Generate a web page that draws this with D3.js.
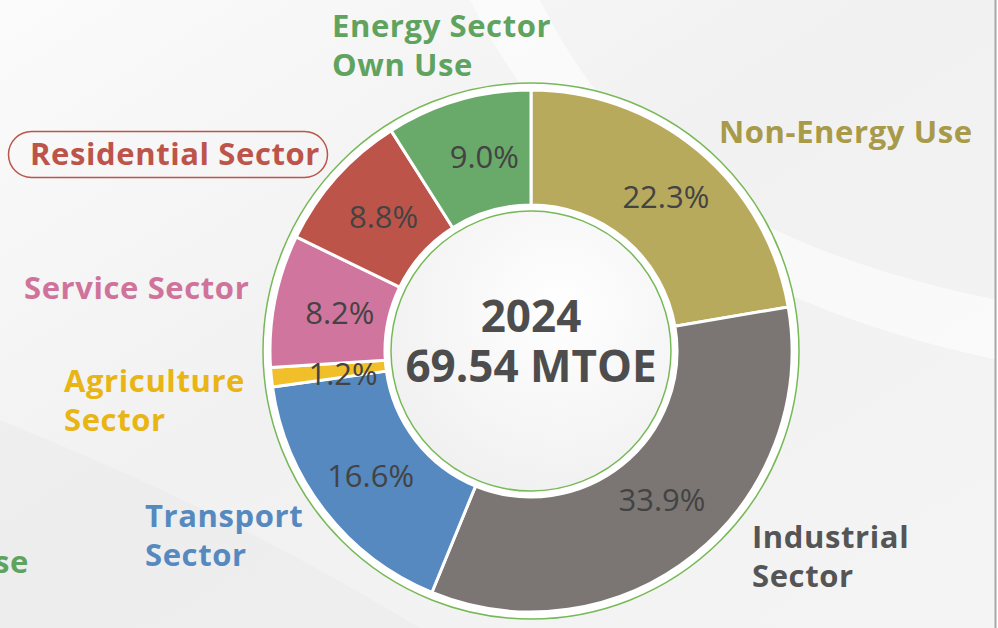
<!DOCTYPE html>
<html>
<head>
<meta charset="utf-8">
<script src="https://cdn.jsdelivr.net/npm/d3@7"></script>
<style>
  html, body { margin: 0; padding: 0; background: #fff; }
  svg { display: block; }
  .label { font-family: 'Open Sans', sans-serif; font-weight: 700; letter-spacing: 0.6px; }
  .pct { font-family: 'Open Sans', sans-serif; font-weight: 400; fill: #434343; }
  .centre { font-family: 'Open Sans', sans-serif; font-weight: 700; fill: #4d4d4d; }
</style>
</head>
<body>
<div id="chart"></div>
<script>
// data, clockwise from 12 o'clock
const sectors = ['Non-Energy Use', 'Industrial Sector', 'Transport Sector', 'Agriculture Sector',
                 'Service Sector', 'Residential Sector', 'Energy Sector Own Use']
const shares = [22.3, 33.9, 16.6, 1.2, 8.2, 8.8, 9.0]
const sliceColours = ['#b8aa5c', '#7b7673', '#5589bf', '#f0bf2a', '#d0759d', '#bd544a', '#69a96a']
const labelColours = ['#a89a48', '#555555', '#5589bf', '#e9b514', '#d0739b', '#bd544a', '#5fa35f']
const labelLines = [['Non-Energy Use'], ['Industrial', 'Sector'], ['Transport', 'Sector'],
                    ['Agriculture', 'Sector'], ['Service Sector'], ['Residential Sector'],
                    ['Energy Sector', 'Own Use']]
const centreLines = ['2024', '69.54 MTOE']

class DonutChart {
    constructor(_config) {
        this.config = {
            parentElement: _config.parentElement,
            containerWidth: _config.containerWidth || 998,
            containerHeight: _config.containerHeight || 628,
            cx: 531,
            cy: 351,
            innerRadius: 146,
            outerRadius: 261,
            ringRadius: 268,
            holeRadius: 140,
            pctRadius: 203
        }
        // where each outer label starts (x) and sits (first baseline)
        this.labelPos = [
            { x: 719, y: 143 }, { x: 752, y: 548 }, { x: 145, y: 527 }, { x: 64, y: 392 },
            { x: 24, y: 299 }, { x: 30, y: 165 }, { x: 332, y: 37 }
        ]
        // small nudges for the percentage labels
        this.pctNudge = [[4, 0], [4, -10], [0, 0], [14, 2], [8, 0], [4, 0], [10, 0]]
        this.initVis()
    }

    initVis() {
        let vis = this

        vis.svg = d3.select(vis.config.parentElement).append('svg')
            .attr('width', vis.config.containerWidth)
            .attr('height', vis.config.containerHeight)

        const defs = vis.svg.append('defs')

        const bg = defs.append('linearGradient')
            .attr('id', 'bg')
            .attr('x1', '0%').attr('y1', '0%')
            .attr('x2', '100%').attr('y2', '100%')
        bg.append('stop').attr('offset', '0%').style('stop-color', '#fbfbfb')
        bg.append('stop').attr('offset', '45%').style('stop-color', '#f1f1f1')
        bg.append('stop').attr('offset', '100%').style('stop-color', '#f4f4f4')

        const hole = defs.append('radialGradient')
            .attr('id', 'hole')
            .attr('cx', '60%').attr('cy', '35%').attr('r', '70%')
        hole.append('stop').attr('offset', '0%').style('stop-color', '#ffffff')
        hole.append('stop').attr('offset', '100%').style('stop-color', '#f0f0f0')

        vis.svg.append('rect')
            .attr('width', 995)
            .attr('height', vis.config.containerHeight)
            .attr('fill', 'url(#bg)')

        // soft white swoosh behind the chart
        vis.svg.append('path')
            .attr('d', 'M540,0 C600,120 700,240 998,300 L998,360 C720,300 560,180 470,0 Z')
            .attr('fill', '#ffffff')
            .attr('opacity', 0.55)
        vis.svg.append('path')
            .attr('d', 'M0,420 C120,470 240,520 420,628 L0,628 Z')
            .attr('fill', '#ebebeb')
            .attr('opacity', 0.6)

        vis.svg.append('line')
            .attr('x1', 995.5).attr('x2', 995.5)
            .attr('y1', 0).attr('y2', vis.config.containerHeight)
            .attr('stroke', '#a7a7a7')
            .attr('stroke-width', 2)

        vis.chart = vis.svg.append('g')
            .attr('transform', `translate(${vis.config.cx},${vis.config.cy})`)
    }

    renderVis() {
        let vis = this
        const c = vis.config

        const data = sectors.map((s, i) => ({ sector: s, share: shares[i], i: i }))

        const pie = d3.pie()
            .value(d => d.share)
            .sort(null)

        const arc = d3.arc()
            .innerRadius(c.innerRadius)
            .outerRadius(c.outerRadius)

        const labelArc = d3.arc()
            .innerRadius(c.pctRadius)
            .outerRadius(c.pctRadius)

        const colour = d3.scaleOrdinal().domain(sectors).range(sliceColours)
        const textColour = d3.scaleOrdinal().domain(sectors).range(labelColours)

        // outer green ring
        vis.chart.append('circle')
            .attr('r', c.ringRadius)
            .attr('fill', '#ffffff')
            .attr('stroke', '#77b957')
            .attr('stroke-width', 1.5)

        vis.chart.selectAll('.slice')
            .data(pie(data))
            .join('path')
            .attr('class', 'slice')
            .attr('d', arc)
            .attr('fill', d => colour(d.data.sector))
            .attr('stroke', '#ffffff')
            .attr('stroke-width', 3)
            .attr('stroke-linejoin', 'round')

        // inner hole
        vis.chart.append('circle')
            .attr('r', c.holeRadius)
            .attr('fill', 'url(#hole)')
            .attr('stroke', '#77b957')
            .attr('stroke-width', 1.5)

        vis.chart.selectAll('.pct')
            .data(pie(data))
            .join('text')
            .attr('class', 'pct')
            .attr('x', d => labelArc.centroid(d)[0] + vis.pctNudge[d.data.i][0])
            .attr('y', d => labelArc.centroid(d)[1] + vis.pctNudge[d.data.i][1])
            .attr('text-anchor', 'middle')
            .attr('dominant-baseline', 'central')
            .style('font-size', '31px')
            .text(d => d3.format('.1f')(d.data.share) + '%')

        vis.chart.selectAll('.centre')
            .data(centreLines)
            .join('text')
            .attr('class', 'centre')
            .attr('x', 0)
            .attr('y', (d, i) => -19 + i * 50)
            .attr('text-anchor', 'middle')
            .style('font-size', '44px')
            .text(d => d)

        // Residential label sits in a rounded box
        vis.svg.append('rect')
            .attr('x', 8.5).attr('y', 131.5)
            .attr('width', 319).attr('height', 46)
            .attr('rx', 23)
            .attr('fill', 'none')
            .attr('stroke', '#bd544a')
            .attr('stroke-width', 1.5)

        const labels = vis.svg.selectAll('.label')
            .data(data)
            .join('text')
            .attr('class', 'label')
            .attr('x', d => vis.labelPos[d.i].x)
            .attr('y', d => vis.labelPos[d.i].y)
            .attr('fill', d => textColour(d.sector))
            .style('font-size', '31px')

        labels.selectAll('tspan')
            .data(d => labelLines[d.i].map(line => ({ line, x: vis.labelPos[d.i].x })))
            .join('tspan')
            .attr('x', d => d.x)
            .attr('dy', (d, i) => i === 0 ? 0 : 39)
            .text(d => d.line)

        // cut-off text at the left edge of the slide
        vis.svg.append('text')
            .attr('class', 'label')
            .attr('x', 29)
            .attr('y', 573)
            .attr('text-anchor', 'end')
            .attr('fill', '#5fa35f')
            .style('font-size', '31px')
            .text('Use')
    }
}

const chart = new DonutChart({ parentElement: '#chart' })
chart.renderVis()
</script>
</body>
</html>
